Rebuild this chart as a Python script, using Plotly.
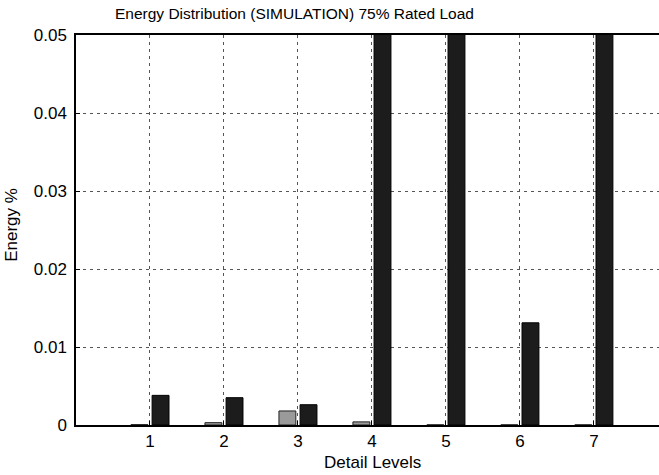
import plotly.graph_objects as go

# Wavelet detail levels and their energy share (%), two series per level
levels = [1, 2, 3, 4, 5, 6, 7]
energy_gray = [0.00005, 0.0003, 0.0018, 0.0004, 0.00002, 0.00002, 0.00002]
energy_black = [0.0038, 0.0035, 0.0026, 0.21, 0.38, 0.0131, 0.33]
y_ticks = [0, 0.01, 0.02, 0.03, 0.04, 0.05]

FONT = "Liberation Sans, Arial, Helvetica, sans-serif"

fig = go.Figure()
fig.add_trace(go.Bar(
    x=levels, y=energy_gray, name="gray",
    marker=dict(color="#9a9a9a", line=dict(color="#222222", width=1)),
))
fig.add_trace(go.Bar(
    x=levels, y=energy_black, name="black",
    marker=dict(color="#1c1c1c", line=dict(color="#000000", width=1)),
))

fig.update_layout(
    width=659, height=475,
    margin=dict(l=76, r=0, t=35, b=50),
    paper_bgcolor="white", plot_bgcolor="white",
    barmode="group", bargap=0.429, bargroupgap=0.2,
    showlegend=False,
    font=dict(family=FONT, size=17, color="black"),
)

grid = dict(showgrid=True, gridcolor="#555555", gridwidth=1, griddash="3px,4px")

fig.update_xaxes(
    range=[0, 7.88], tickvals=levels, ticktext=[str(v) for v in levels],
    showline=True, linecolor="black", linewidth=1.5, mirror=True,
    ticks="inside", ticklen=4, tickcolor="black",
    zeroline=False, **grid,
)
fig.update_yaxes(
    range=[0, 0.05], tickvals=y_ticks, ticktext=["0", "0.01", "0.02", "0.03", "0.04", "0.05"],
    showline=True, linecolor="black", linewidth=1.5,
    ticks="inside", ticklen=4, tickcolor="black",
    zeroline=False, ticklabelstandoff=4, **grid,
)

fig.add_annotation(
    text="Energy Distribution (SIMULATION) 75% Rated Load",
    xref="paper", yref="paper", x=0.374, y=1.056,
    xanchor="center", yanchor="middle", showarrow=False,
    font=dict(family=FONT, size=15.5, color="black"),
)
fig.add_annotation(
    text="Detail Levels",
    xref="paper", yref="paper", x=0.509, y=-0.097,
    xanchor="center", yanchor="middle", showarrow=False,
    font=dict(family=FONT, size=17, color="black"),
)
fig.add_annotation(
    text="Energy %",
    xref="paper", yref="paper", x=-0.11, y=0.513, textangle=-90,
    xanchor="center", yanchor="middle", showarrow=False,
    font=dict(family=FONT, size=17, color="black"),
)

fig.write_html("out.html")
